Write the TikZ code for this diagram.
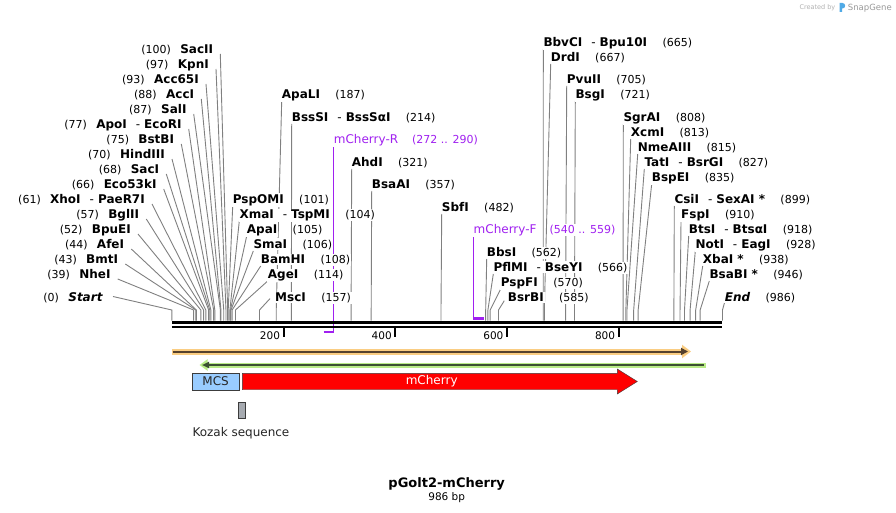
\documentclass[tikz,border=0pt]{standalone}
\usepackage{fontspec}
\setmainfont{DejaVu Sans}
\usetikzlibrary{arrows.meta}

\definecolor{leadgray}{RGB}{128,128,128}
\definecolor{primerpurple}{RGB}{160,32,240}
\definecolor{mcsblue}{RGB}{153,204,255}
\definecolor{kozakgray}{RGB}{166,170,176}
\definecolor{bandorange}{RGB}{250,205,130}
\definecolor{lineorange}{RGB}{85,65,45}
\definecolor{bandgreen}{RGB}{185,235,135}
\definecolor{linegreen}{RGB}{60,80,50}
\definecolor{edgegray}{RGB}{60,60,60}
\definecolor{snapblue}{RGB}{80,170,230}

\pgfdeclarelayer{wires}
\pgfsetlayers{wires,main}

\tikzset{
  enz/.style={font=\fontsize{12}{14}\selectfont\bfseries, fill=white, inner sep=1pt},
  cutpos/.style={font=\fontsize{11}{13}\selectfont, fill=white, inner sep=1pt},
  primtxt/.style={font=\fontsize{12}{14}\selectfont, text=primerpurple, fill=white, inner sep=1pt},
  primnum/.style={font=\fontsize{11}{13}\selectfont, text=primerpurple, fill=white, inner sep=1pt},
  leader/.style={draw=leadgray, line width=0.9pt},
  primline/.style={draw=primerpurple, line width=1pt},
  primbar/.style={draw=primerpurple, line width=2.5pt},
  tickmark/.style={line width=2pt},
  ticklbl/.style={font=\fontsize{10.5}{12}\selectfont, inner sep=1pt},
  featlbl/.style={font=\fontsize{12}{14}\selectfont, inner sep=1pt},
}

% bp -> x
\newcommand{\bpx}[1]{171.8+0.5585*#1}
\newcommand{\dsh}{\hspace{9pt}{\mdseries-}\hspace{4pt}}

% label on the left side, text ends at #3
\newcommand{\lsite}[7][7,5]{%
  \coordinate (#2-p) at (#3,#4);
  \coordinate (#2-a) at ([shift={(#1)}]#2-p);
  \coordinate (#2-s) at ({\bpx{#5}},310);
  \coordinate (#2-c) at ({\bpx{#5}},320.7);
  \begin{pgfonlayer}{wires}
    \draw[leader] (#2-a) -- (#2-s) -- (#2-c);
  \end{pgfonlayer}
  \node[enz, anchor=base east] (#2) at ([shift={(1,4.4)}]#2-p) {#6};
  \node[cutpos, anchor=base east] (#2-n) at ([xshift=-7pt]#2.base west) {(#7)};
}

% label on the right side, text starts at #3
\newcommand{\rsite}[7][0,7]{%
  \coordinate (#2-p) at (#3,#4);
  \coordinate (#2-a) at ([shift={(#1)}]#2-p);
  \coordinate (#2-s) at ({\bpx{#5}},310);
  \coordinate (#2-c) at ({\bpx{#5}},320.7);
  \begin{pgfonlayer}{wires}
    \draw[leader] (#2-a) -- (#2-s) -- (#2-c);
  \end{pgfonlayer}
  \node[enz, anchor=base west] (#2) at ([shift={(-1,4.4)}]#2-p) {#6};
  \node[cutpos, anchor=base west] (#2-n) at ([xshift=13pt]#2.base east) {(#7)};
}

\begin{document}
\begin{tikzpicture}[x=1pt,y=-1pt]
  \useasboundingbox (0,0) rectangle (896,513);
  \begin{pgfonlayer}{wires}
    \fill[white] (0,0) rectangle (896,513);
  \end{pgfonlayer}

  % created by
  \node[font=\fontsize{6.5}{8}\selectfont, text=black!30, anchor=base east, inner sep=0] (credit) at (835.5,10) {Created by};
  \fill[snapblue] (839.5,12) -- (839.5,3) -- (842.5,3) .. controls (846,3) and (846,8.5) .. (842.5,8.5) -- (842,8.5) -- (842,12) -- cycle;
  \node[font=\fontsize{8.5}{10}\selectfont, text=black!40, anchor=base west, inner sep=0] (snapgene) at (847.7,10.3) {SnapGene};

  % sites, left cluster
  \lsite{sacii}{213.3}{49}{100}{SacII}{100}
  \lsite{kpni}{209}{64}{97}{KpnI}{97}
  \lsite{acc65i}{199}{79}{93}{Acc65I}{93}
  \lsite{acci}{194.3}{94}{88}{AccI}{88}
  \lsite{sali}{186.7}{109}{87}{SalI}{87}
  \lsite{apoi}{181.7}{124}{77}{ApoI\dsh EcoRI}{77}
  \lsite{bstbi}{174.3}{139}{75}{BstBI}{75}
  \lsite{hindiii}{165}{154}{70}{HindIII}{70}
  \lsite{saci}{159.3}{169}{68}{SacI}{68}
  \lsite{eco53ki}{156.7}{184}{66}{Eco53kI}{66}
  \lsite{xhoi}{145}{199}{61}{XhoI\dsh PaeR7I}{61}
  \lsite{bglii}{139.3}{214}{57}{BglII}{57}
  \lsite{bpuei}{131}{229}{52}{BpuEI}{52}
  \lsite{afei}{124.3}{244}{44}{AfeI}{44}
  \lsite{bmti}{118.3}{259}{43}{BmtI}{43}
  \lsite{nhei}{110.7}{274}{39}{NheI}{39}
  \lsite[10.3,-0.5]{start}{102.7}{297}{0}{\itshape Start}{0}

  % sites, right of the cluster
  \rsite{pspomi}{232.7}{199}{101}{PspOMI}{101}
  \rsite{xmai}{239.3}{214}{104}{XmaI\dsh TspMI}{104}
  \rsite{apai}{246.7}{229}{105}{ApaI}{105}
  \rsite{smai}{253.3}{244}{106}{SmaI}{106}
  \rsite{bamhi}{260.7}{259}{108}{BamHI}{108}
  \rsite{agei}{267.7}{274}{114}{AgeI}{114}
  \rsite[-5,1.6]{msci}{275}{297}{157}{MscI}{157}
  \rsite{apali}{281.7}{94}{187}{ApaLI}{187}
  \rsite{bsssi}{291.7}{117}{214}{BssSI\dsh BssSαI}{214}
  \rsite{ahdi}{351.7}{162}{321}{AhdI}{321}
  \rsite{bsaai}{371.7}{184}{357}{BsaAI}{357}
  \rsite{sbfi}{441.7}{207}{482}{SbfI}{482}
  \rsite{bbsi}{486.7}{252}{562}{BbsI}{562}
  \rsite{pflmi}{493.3}{267}{566}{PflMI\dsh BseYI}{566}
  \rsite{pspfi}{500.7}{282}{570}{PspFI}{570}
  \rsite[-3.4,3.7]{bsrbi}{507.7}{297}{585}{BsrBI}{585}
  \rsite{bbvci}{543.3}{42}{665}{BbvCI\dsh Bpu10I}{665}
  \rsite{drdi}{550.7}{57}{667}{DrdI}{667}
  \rsite{pvuii}{566.7}{79}{705}{PvuII}{705}
  \rsite{bsgi}{575.3}{94}{721}{BsgI}{721}
  \rsite{sgrai}{623.3}{117}{808}{SgrAI}{808}
  \rsite{xcmi}{630.7}{132}{813}{XcmI}{813}
  \rsite{nmeaiii}{637.7}{147}{815}{NmeAIII}{815}
  \rsite{tati}{644.3}{162}{827}{TatI\dsh BsrGI}{827}
  \rsite{bspei}{651.7}{177}{835}{BspEI}{835}
  \rsite{csii}{674.3}{199}{899}{CsiI\dsh SexAI *}{899}
  \rsite{fspi}{681}{214}{910}{FspI}{910}
  \rsite{btsi}{688.7}{229}{918}{BtsI\dsh BtsαI}{918}
  \rsite{noti}{695.3}{244}{928}{NotI\dsh EagI}{928}
  \rsite{xbai}{702.7}{259}{938}{XbaI *}{938}
  \rsite{bsabi}{709.3}{274}{946}{BsaBI *}{946}
  \rsite[0,5]{end}{724.7}{297}{986}{\itshape End}{986}

  % primers
  \node[primtxt, anchor=base west] (primR) at (332.7,143.4) {mCherry-R};
  \node[primnum, anchor=base west] (primR-n) at ([xshift=11.6pt]primR.base east) {(272 .. 290)};
  \coordinate (primR-a) at ({\bpx{290}},145);
  \coordinate (primR-e) at ({\bpx{290}},332);
  \coordinate (primR-b) at ({\bpx{272}},332);
  \node[primtxt, anchor=base west] (primF) at (472.5,233.4) {mCherry-F};
  \node[primnum, anchor=base west] (primF-n) at ([xshift=10.7pt]primF.base east) {(540 .. 559)};
  \coordinate (primF-a) at ({\bpx{540}},235);
  \coordinate (primF-e) at ({\bpx{540}},318.5);
  \coordinate (primF-b) at ({\bpx{559}},318.5);
  \begin{pgfonlayer}{wires}
    \draw[primline] (primR-a) -- (primR-e);
    \draw[primline] (primF-a) -- (primF-e);
  \end{pgfonlayer}
  \draw[primbar] (primR-b) -- (primR-e);
  \draw[primbar] (primF-e) -- (primF-b);

  % backbone
  \draw[line width=3.4pt] ({\bpx{0}},322.3) -- ({\bpx{986}},322.3);
  \draw[line width=1.8pt] ({\bpx{0}},326.9) -- ({\bpx{986}},326.9);
  \foreach \t in {200,400,600,800}
    \draw[tickmark] ({\bpx{\t}},327.7) -- ({\bpx{\t}},336.5)
      node[ticklbl, anchor=east] (tk\t) at ({\bpx{\t}-1.5},336) {\t};

  % features
  \draw[line width=6pt, bandorange, -{Triangle[length=9pt,width=13pt]}] (171.8,351.5) -- (691,351.5);
  \draw[line width=2pt, lineorange, -{Triangle[length=7pt,width=7pt]}] (172.5,351.5) -- (688,351.5);
  \draw[line width=5pt, bandgreen, {Triangle[length=8pt,width=11pt]}-] (199.5,365) -- (706,365);
  \draw[line width=2pt, linegreen, {Triangle[length=7pt,width=6pt]}-] (202,365) -- (704,365);

  \node[draw=edgegray, fill=mcsblue, minimum width=46.7pt, minimum height=16.4pt, inner sep=0,
        font=\fontsize{12}{14}\selectfont, text=black!85] (mcs) at (215.65,381.5) {MCS};
  \filldraw[fill=red, draw=edgegray] (242.3,373.3) -- (617.3,373.3) -- (617.3,369) -- (637.3,381.5)
    -- (617.3,394) -- (617.3,389.7) -- (242.3,389.7) -- cycle;
  \node[featlbl, text=white] (mcherry) at (431.7,381.5) {mCherry};
  \node[draw=edgegray, fill=kozakgray, minimum width=6.4pt, minimum height=16.3pt, inner sep=0] (kozak) at (241.5,410.2) {};
  \node[featlbl, anchor=base west, text=black!85] (kozak-lbl) at (191.3,436) {Kozak sequence};

  % title
  \node[font=\fontsize{13}{15}\selectfont\bfseries, anchor=base, inner sep=0] (title) at (446.7,487.5) {pGolt2-mCherry};
  \node[font=\fontsize{10.5}{12}\selectfont, anchor=base, inner sep=0] (size) at (446.7,500.8) {986 bp};
\end{tikzpicture}
\end{document}
